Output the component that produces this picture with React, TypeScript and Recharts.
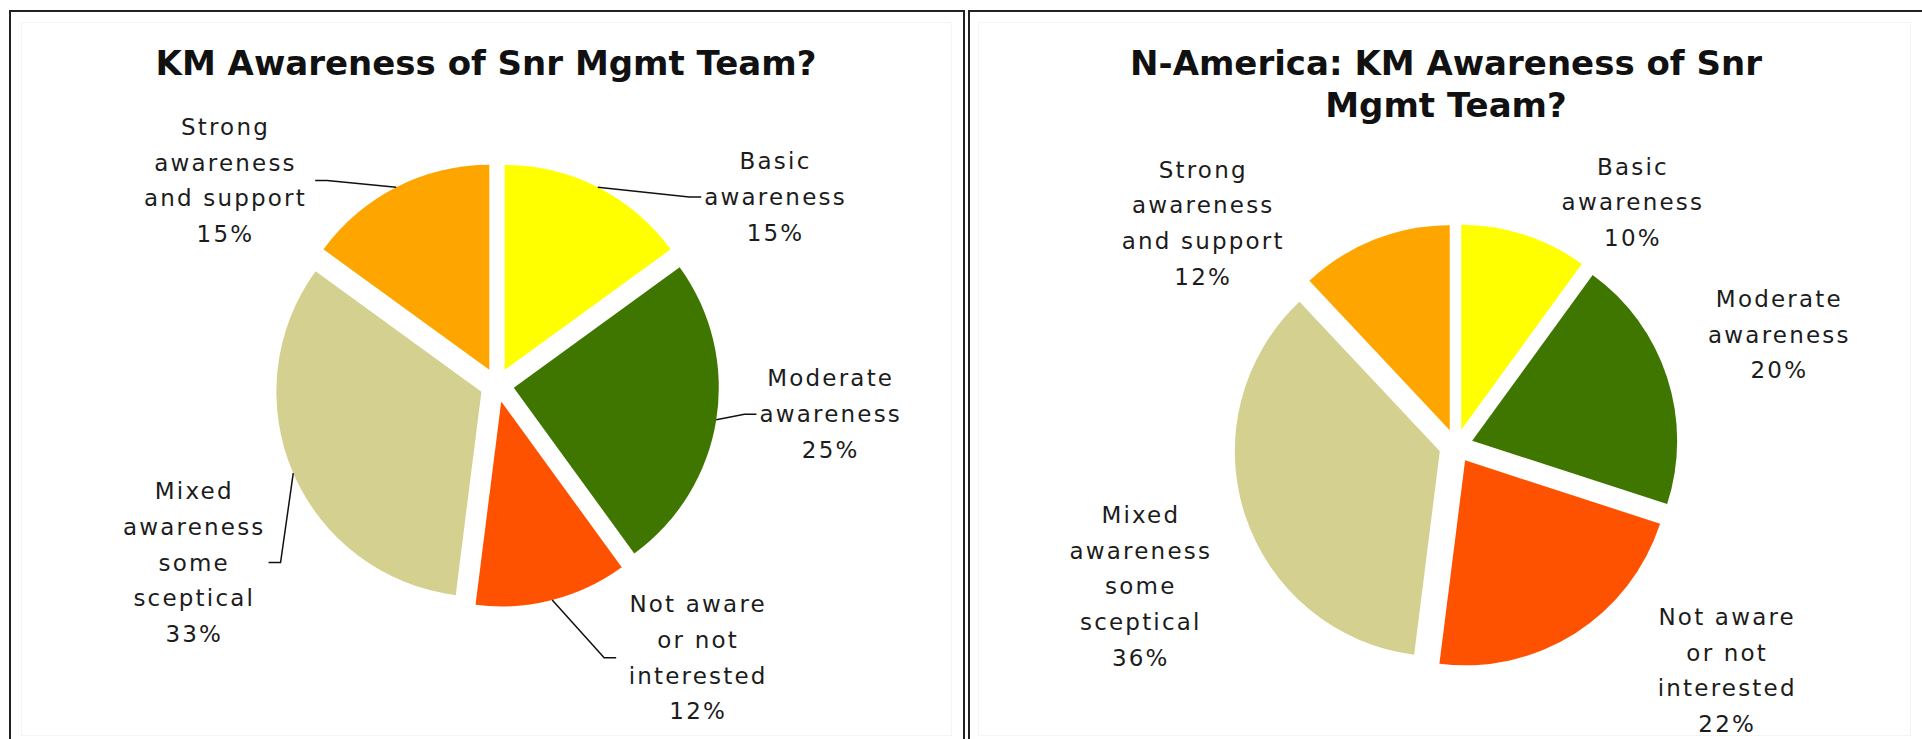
import React from "react";
import { PieChart, Pie, Cell, Sector } from "recharts";

// slice names (line breaks as in the original labels)
const categories = [
  "Basic\nawareness",
  "Moderate\nawareness",
  "Not aware\nor not\ninterested",
  "Mixed\nawareness\nsome\nsceptical",
  "Strong\nawareness\nand support",
];
const overallShares = [15, 25, 12, 33, 15];
const northAmericaShares = [10, 20, 22, 36, 12];
const sliceColors = ["#FFFF00", "#3F7600", "#FF5200", "#D4D08F", "#FFA500"];

const overallData = categories.map((name, i) => ({ name, value: overallShares[i] }));
const naData = categories.map((name, i) => ({ name, value: northAmericaShares[i] }));

// label placement: angle nudge (deg, clockwise) and distance from pie centre
const overallLabelPos = [
  { shift: 29, dist: 336 },
  { shift: -4, dist: 335 },
  { shift: -22, dist: 339 },
  { shift: -7, dist: 351 },
  { shift: -26, dist: 340 },
];
const naLabelPos = [
  { shift: 18, dist: 301 },
  { shift: -1, dist: 342 },
  { shift: -18, dist: 352 },
  { shift: -6, dist: 345 },
  { shift: -27, dist: 337 },
];

const RADIUS = 205;
const EXPLODE = 17;
const LINE_H = 35.7;
const FONT = "'DejaVu Sans', Verdana, sans-serif";
const RAD = Math.PI / 180;

function ExplodedSector(props: any) {
  const { cx, cy, midAngle } = props;
  return (
    <Sector
      {...props}
      stroke="none"
      cx={cx + EXPLODE * Math.cos(-midAngle * RAD)}
      cy={cy + EXPLODE * Math.sin(-midAngle * RAD)}
    />
  );
}

function makeLabel(placement: { shift: number; dist: number }[], withLeader: boolean) {
  return (props: any) => {
    const { cx, cy, midAngle, outerRadius, percent, name, index } = props;
    const { shift, dist } = placement[index];
    const theta = (90 - midAngle + shift) * RAD;
    const lx = cx + dist * Math.sin(theta);
    const ly = cy - dist * Math.cos(theta);
    const lines = [...String(name).split("\n"), `${Math.round(percent * 100)}%`];
    const y0 = ly - ((lines.length - 1) * LINE_H) / 2;

    let leader = null;
    if (withLeader) {
      const ax = cx + (outerRadius + EXPLODE) * Math.cos(-midAngle * RAD);
      const ay = cy + (outerRadius + EXPLODE) * Math.sin(-midAngle * RAD);
      const half = Math.max(...lines.map((l) => l.length)) * 7.7 + 5;
      const side = lx > ax ? -1 : 1;
      const ex = lx + side * half;
      leader = (
        <polyline
          points={`${ax},${ay} ${ex + side * 12},${ly} ${ex},${ly}`}
          fill="none"
          stroke="#111"
          strokeWidth={1.5}
        />
      );
    }

    return (
      <g key={`lbl-${index}`}>
        {leader}
        <text
          x={lx}
          y={y0}
          textAnchor="middle"
          fontFamily={FONT}
          fontSize={23}
          letterSpacing={2.2}
          fill="#1c1c1c"
        >
          {lines.map((l, k) => (
            <tspan key={k} x={lx} y={y0 + k * LINE_H} dominantBaseline="central">
              {l}
            </tspan>
          ))}
        </text>
      </g>
    );
  };
}

const titleStyle: React.CSSProperties = {
  position: "absolute",
  top: 42,
  textAlign: "center",
  fontFamily: FONT,
  fontWeight: "bold",
  fontSize: 34,
  lineHeight: "42px",
  color: "#111",
  whiteSpace: "nowrap",
};

export default function App() {
  return (
    <div
      style={{
        position: "absolute",
        left: 0,
        top: 0,
        width: 1922,
        height: 739,
        overflow: "hidden",
        background: "#fff",
      }}
    >
      {/* panel frames */}
      <div
        style={{
          position: "absolute",
          left: 9,
          top: 10,
          width: 952,
          height: 800,
          borderLeft: "2px solid #222",
          borderTop: "2px solid #222",
          borderRight: "2px solid #222",
        }}
      />
      <div
        style={{
          position: "absolute",
          left: 968,
          top: 10,
          width: 960,
          height: 800,
          borderLeft: "2px solid #222",
          borderTop: "2px solid #222",
        }}
      />
      <div
        style={{
          position: "absolute",
          left: 21,
          top: 22,
          width: 929,
          height: 712,
          border: "1px solid #f4f4f4",
        }}
      />
      <div
        style={{
          position: "absolute",
          left: 978,
          top: 22,
          width: 931,
          height: 712,
          border: "1px solid #f4f4f4",
        }}
      />

      <div style={{ position: "absolute", left: 0, top: 0 }}>
        <PieChart width={1922} height={739}>
          <Pie
            data={overallData}
            dataKey="value"
            nameKey="name"
            cx={492}
            cy={380}
            outerRadius={RADIUS}
            startAngle={90}
            endAngle={-270}
            stroke="none"
            shape={ExplodedSector}
            inactiveShape={ExplodedSector}
            activeShape={ExplodedSector}
            label={makeLabel(overallLabelPos, true)}
            labelLine={false}
            isAnimationActive={false}
          >
            {overallData.map((d, i) => (
              <Cell key={d.name} fill={sliceColors[i]} />
            ))}
          </Pie>
          <Pie
            data={naData}
            dataKey="value"
            nameKey="name"
            cx={1451}
            cy={441}
            outerRadius={RADIUS}
            startAngle={90}
            endAngle={-270}
            stroke="none"
            shape={ExplodedSector}
            inactiveShape={ExplodedSector}
            activeShape={ExplodedSector}
            label={makeLabel(naLabelPos, false)}
            labelLine={false}
            isAnimationActive={false}
          >
            {naData.map((d, i) => (
              <Cell key={d.name} fill={sliceColors[i]} />
            ))}
          </Pie>
        </PieChart>
      </div>

      <div style={{ ...titleStyle, left: 9, width: 954 }}>KM Awareness of Snr Mgmt Team?</div>
      <div style={{ ...titleStyle, left: 969, width: 954 }}>
        N-America: KM Awareness of Snr
        <br />
        Mgmt Team?
      </div>
    </div>
  );
}
